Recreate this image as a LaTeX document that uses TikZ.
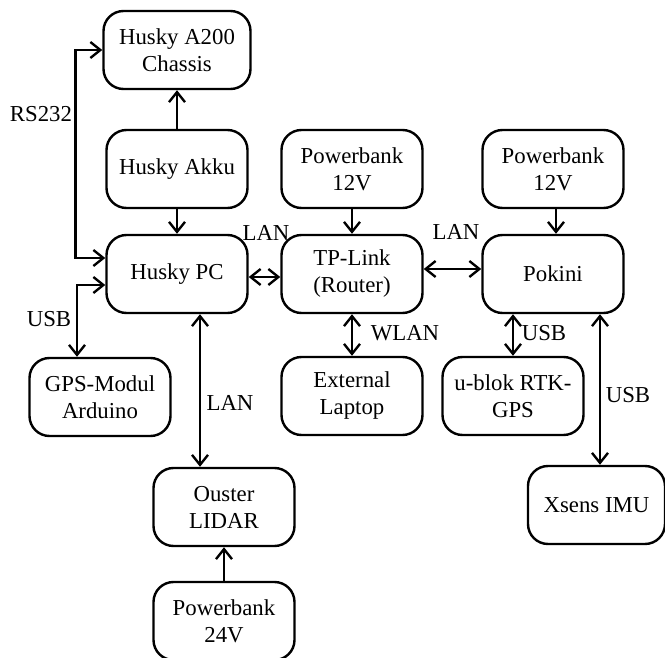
\documentclass[tikz,border=0pt]{standalone}
\usepackage{fontspec}
\setmainfont{Liberation Serif}
\usetikzlibrary{arrows.meta, positioning}

\begin{document}
\begin{tikzpicture}[x=1pt, y=-1pt,
        box/.style={draw, rounded corners=20pt, line width=2.4pt, minimum width=141pt,
                    minimum height=78pt, align=center, inner sep=2pt,
                    font=\fontsize{22.8}{27}\selectfont},
        lbl/.style={inner sep=0pt, font=\fontsize{22.8}{27}\selectfont},
        arr/.style={-{Straight Barb[length=10pt, width=16pt, line width=2.4pt]}, line width=2.4pt},
        darr/.style={{Straight Barb[length=10pt, width=16pt, line width=2.4pt]}-{Straight Barb[length=10pt, width=16pt, line width=2.4pt]}, line width=2.4pt}
    ]
        \useasboundingbox (0,0) rectangle (665,658);

        \node[box, minimum width=147pt] (chassis) at (177, 50) {Husky A200\\Chassis};
        \node[box] (akku) at (177, 169) {Husky Akku};
        \node[box] (pc) at (177, 274) {Husky PC};
        \node[box] (pbmid) at (352, 169) {Powerbank\\12V};
        \node[box] (tplink) at (352, 274) {TP-Link\\(Router)};
        \node[box] (pbright) at (553, 169) {Powerbank\\12V};
        \node[box] (pokini) at (553, 274) {Pokini};
        \node[box] (gps) at (100, 397) {GPS-Modul\\Arduino};
        \node[box] (laptop) at (352, 396) {External\\Laptop};
        \node[box] (ublok) at (513, 396) {u-blok RTK-\\GPS};
        \node[box] (ouster) at (224, 507) {Ouster\\LIDAR};
        \node[box, minimum width=137pt] (xsens) at (596.5, 505) {Xsens IMU};
        \node[box] (pb24) at (224, 621) {Powerbank\\24V};

        % connection labels
        \node[lbl] (lrs) at (41, 114) {RS232};
        \node[lbl] (lusbgps) at (49, 319) {USB};
        \node[lbl] (llanpc) at (266, 233) {LAN};
        \node[lbl] (llanpok) at (456, 232) {LAN};
        \node[lbl] (lwlan) at (405, 333) {WLAN};
        \node[lbl] (lusbrtk) at (544, 333) {USB};
        \node[lbl] (lusbimu) at (628, 395) {USB};
        \node[lbl] (llanlid) at (230, 403) {LAN};

        \draw[arr] (akku) -- (chassis);
        \draw[arr] (akku) -- (pc);
        \draw[arr] (pbmid) -- (tplink);
        \draw[arr] (pbright.south -| 556,0) -- (pokini.north -| 556,0);
        \draw[arr] (pb24) -- (ouster);

        \draw[darr] (chassis.west) -- ++(-27,0) |- ([yshift=16pt]pc.west);
        \draw[darr] ([yshift=-11pt]pc.west) -| ([xshift=-23pt]gps.north);
        \draw[darr] ([yshift=-3pt]pc.east) -- ([yshift=-3pt]tplink.west);
        \draw[darr] ([yshift=5pt]tplink.east) -- ([yshift=5pt]pokini.west);
        \draw[darr] (tplink) -- (laptop);
        \draw[darr] (pokini.south -| ublok.north) -- (ublok.north);
        \draw[darr] (pokini.south -| 600,0) -- (xsens.north -| 600,0);
        \draw[darr] ([xshift=23pt]pc.south) -- ([xshift=-24pt]ouster.north);
\end{tikzpicture}
\end{document}
